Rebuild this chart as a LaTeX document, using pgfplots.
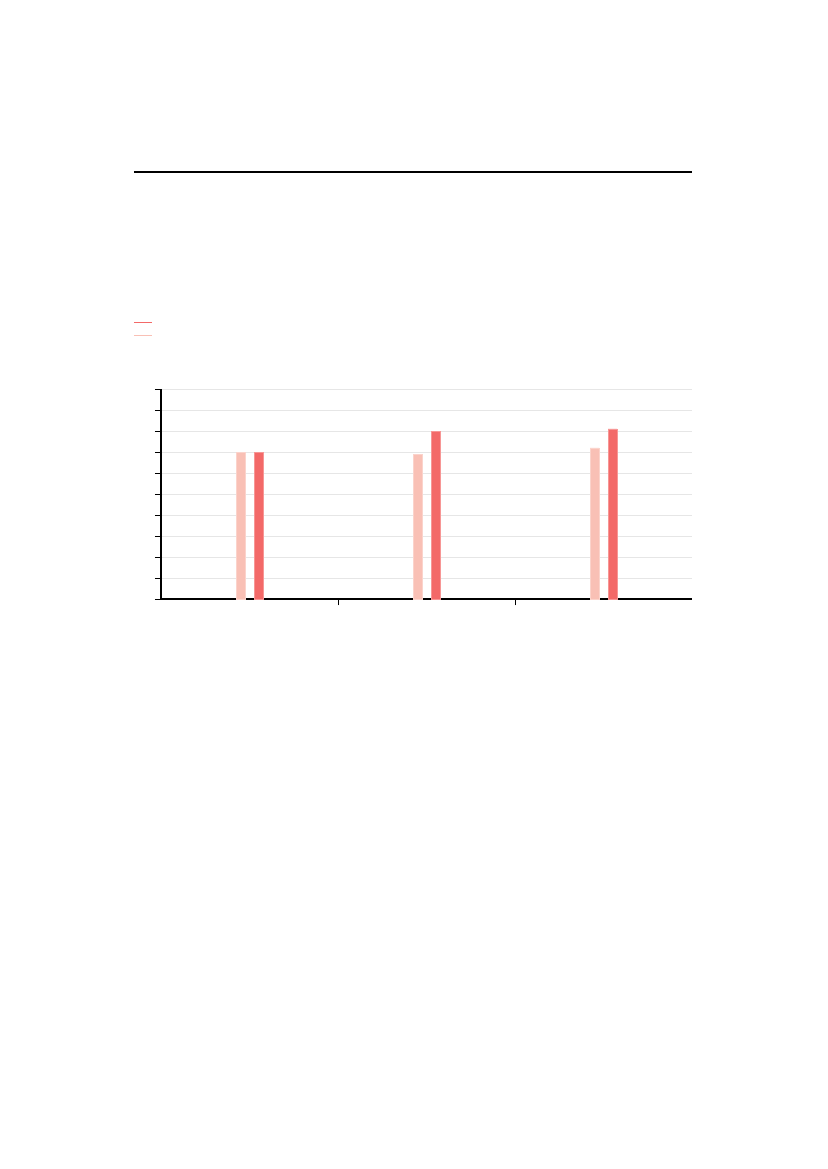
\documentclass[border=0pt]{standalone}
\usepackage{pgfplots}
\pgfplotsset{compat=1.18}

\definecolor{barlight}{RGB}{249,192,181}
\definecolor{bardark}{RGB}{243,105,104}
\definecolor{gridgray}{RGB}{230,230,230}

\begin{document}
\begin{tikzpicture}[x=1pt,y=1pt]
    % page frame, A4
    \path[use as bounding box] (0,0) rectangle (595.7,842);
    % rule under the (empty) title
    \draw[line width=1.6pt] (96.5,718.0) -- (498.5,718.0);
    % legend samples (entries carry no text)
    \draw[draw=bardark, line width=1pt] (96.5,609.7) -- (109.5,609.7);
    \draw[draw=barlight, line width=1pt] (96.5,600.4) -- (109.5,600.4);

    \begin{axis}[
        at={(116pt,410.5pt)}, anchor=origin,
        scale only axis,
        width=382.5pt, height=151.3pt,
        xmin=0, xmax=3,
        ymin=0, ymax=10,
        axis x line*=bottom,
        axis y line*=left,
        axis line style={line width=1.2pt},
        xtick={1,2},
        xticklabels={},
        ytick={0,1,...,10},
        yticklabels={},
        tick style={black, line width=0.7pt},
        major tick length=4.5pt,
        tick align=outside,
        ymajorgrids,
        grid style={gridgray, line width=0.6pt},
    ]
        \addplot[ybar, bar width=6.5pt, bar shift=-6.5pt, fill=barlight, draw=barlight!70!white, line width=0.3pt]
            coordinates {(0.5,7.0) (1.5,6.9) (2.5,7.2)};
        \addplot[ybar, bar width=6.5pt, bar shift=6.5pt, fill=bardark, draw=bardark!70!white, line width=0.3pt]
            coordinates {(0.5,7.0) (1.5,8.0) (2.5,8.1)};
    \end{axis}
\end{tikzpicture}
\end{document}
